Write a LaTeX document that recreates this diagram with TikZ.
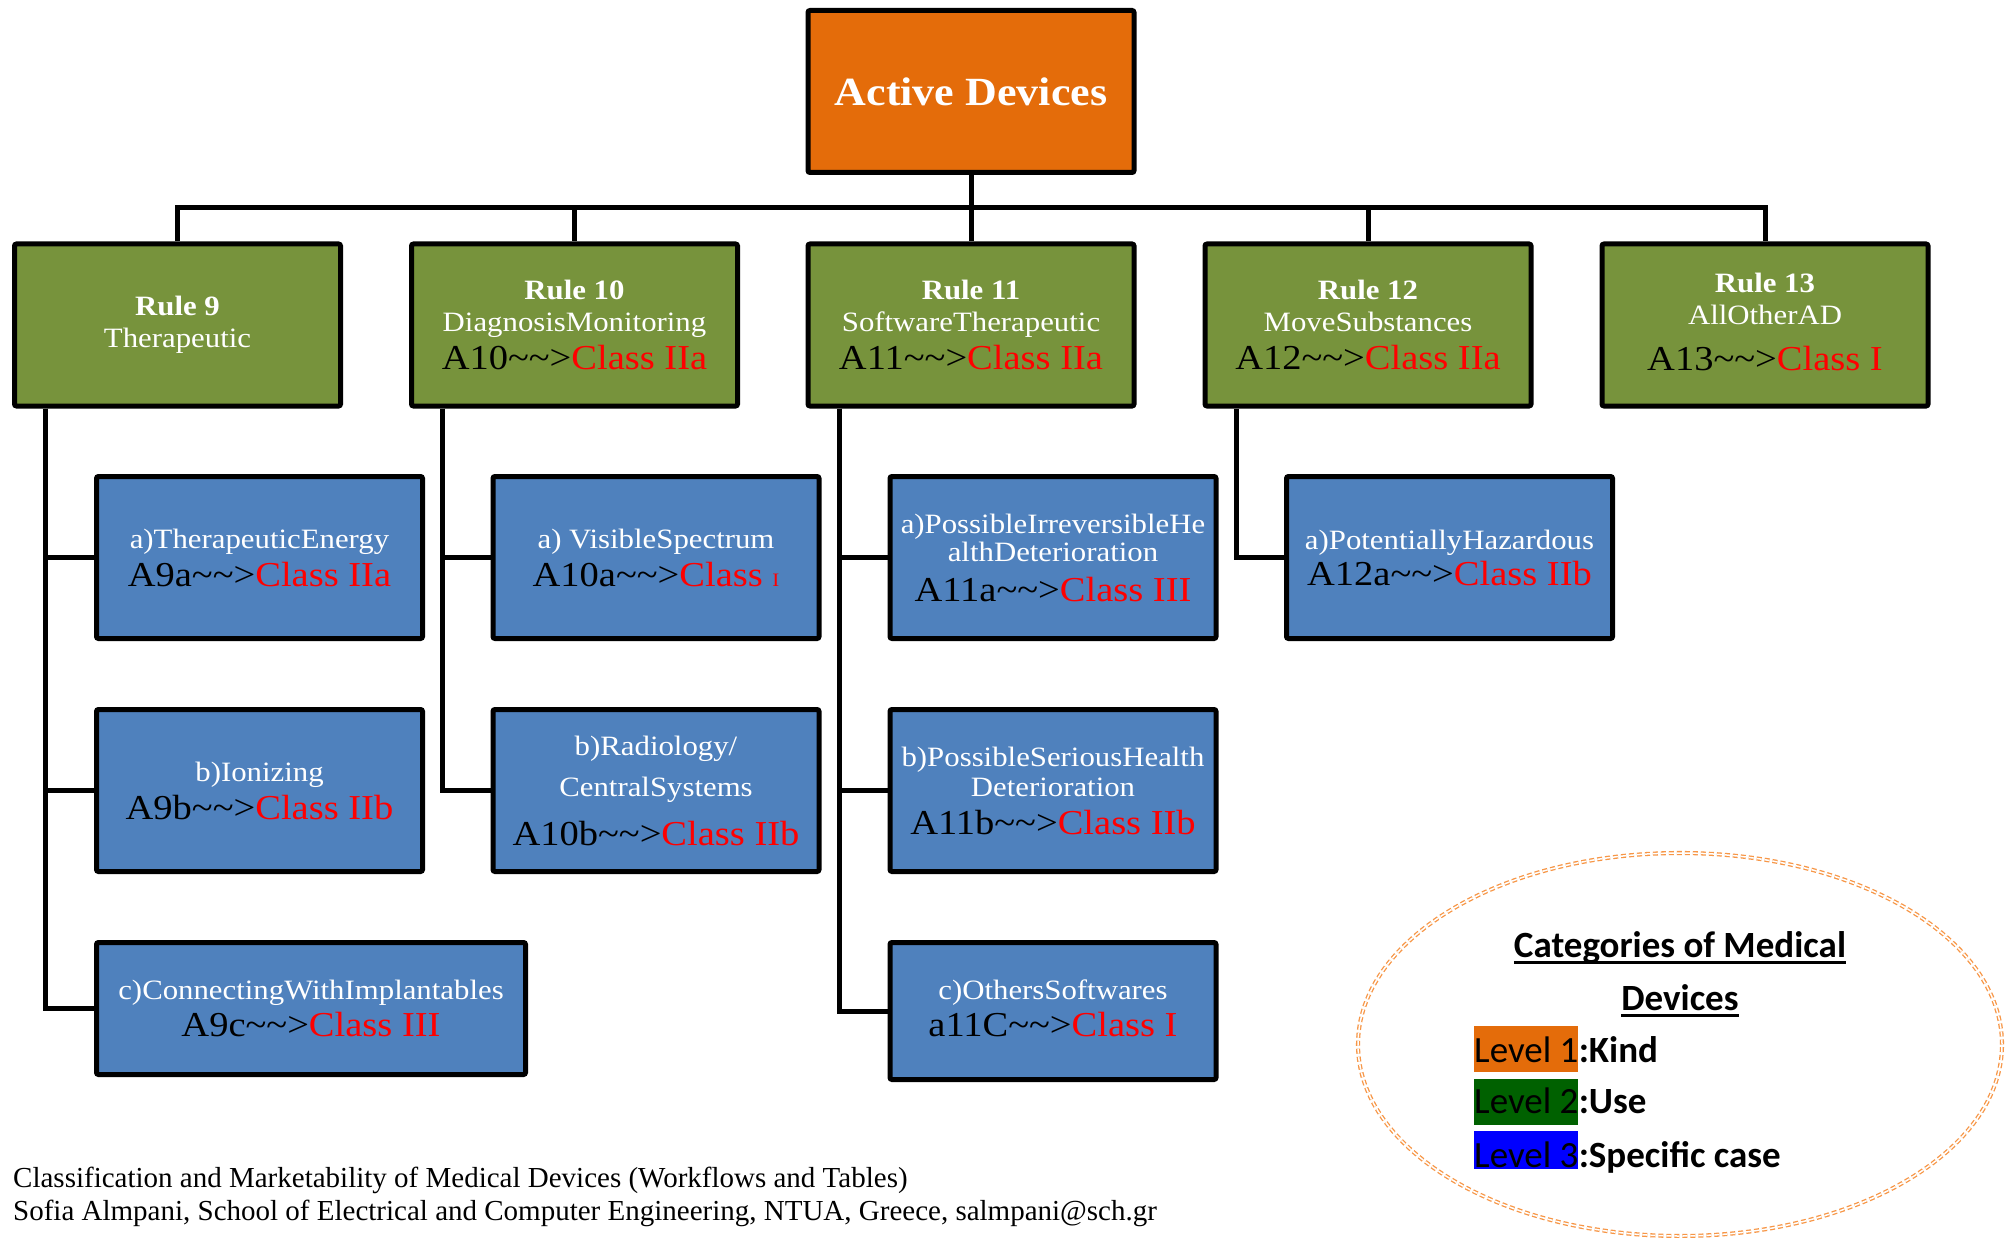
\documentclass[tikz,border=0pt]{standalone}
\usepackage{fontspec}
\setmainfont{Liberation Serif}
\newfontfamily\boxfont[FakeStretch=1.1]{Liberation Serif}
\newfontfamily\keyfont{Carlito}
\usetikzlibrary{shapes.geometric}

\definecolor{kindorange}{HTML}{E46C0A}
\definecolor{useolive}{HTML}{77933C}
\definecolor{caseblue}{HTML}{4F81BD}
\definecolor{ringorange}{HTML}{F79646}
\definecolor{lvlgreen}{HTML}{006100}
\definecolor{lvlblue}{HTML}{0000FF}
\definecolor{classred}{HTML}{FF0000}

% code of a rule or case, followed by its class in red
\newcommand\assign[2]{{\fontsize{35}{35}\selectfont\color{black}#1\textasciitilde\textasciitilde>\color{classred}Class #2}}
\newcommand\smallI{{\fontsize{19}{19}\selectfont I}}
% extra room below a last line
\newcommand\lowroom[1]{\rule[-#1]{0pt}{#1}}
% underline at a fixed distance below the baseline
\newcommand\ulined[1]{\setbox0=\hbox{#1}\rlap{\vrule height -4pt depth 7pt width \wd0}\box0}

\tikzset{
  box/.style={draw=black, line width=5pt, rounded corners=2pt,
    minimum width=326pt, minimum height=162pt, inner sep=0pt,
    align=center, text=white,
    font={\boxfont\fontsize{28}{32}\selectfont\lineskiplimit=-100pt}},
  kindnode/.style={box, fill=kindorange,
    font={\boxfont\bfseries\fontsize{40}{44}\selectfont}},
  usenode/.style={box, fill=useolive},
  casenode/.style={box, fill=caseblue},
  conn/.style={draw=black, line width=5pt},
  ring/.style={ellipse, draw=ringorange, line width=1.3pt, double=white,
    double distance=1.5pt, dash pattern=on 5pt off 3pt,
    minimum width=644pt, minimum height=383pt, inner sep=0pt},
  keytitle/.style={anchor=base, inner sep=0pt,
    font={\keyfont\bfseries\fontsize{37}{44}\selectfont}},
  levelmark/.style={anchor=base west, inner sep=0pt,
    font={\keyfont\fontsize{37}{44}\selectfont}},
  levelword/.style={anchor=base west, inner sep=0pt,
    font={\keyfont\bfseries\fontsize{37}{44}\selectfont}},
  credit/.style={anchor=base west, inner sep=0pt,
    font={\fontsize{29}{33}\selectfont}},
}

\begin{document}
\begin{tikzpicture}[x=1pt, y=-1pt]
  \path[fill=white] (0,0) rectangle (2015,1238);
  \useasboundingbox (0,0) rectangle (2015,1238);

  % level 1
  \node[kindnode] (ad) at (971,91.5) {Active Devices};

  % level 2: rules
  \node[usenode] (r9)  at (177.5,325) {\textbf{Rule 9}\\Therapeutic};
  \node[usenode] (r10) at (574.5,325) {\textbf{Rule 10}\\DiagnosisMonitoring\\[6pt]\assign{A10}{IIa}};
  \node[usenode] (r11) at (971,325)   {\textbf{Rule 11}\\SoftwareTherapeutic\\[6pt]\assign{A11}{IIa}};
  \node[usenode] (r12) at (1368,325)  {\textbf{Rule 12}\\MoveSubstances\\[6pt]\assign{A12}{IIa}};
  \node[usenode] (r13) at (1765,325)  {\textbf{Rule 13}\\AllOtherAD\\[14pt]\assign{A13}{I}\lowroom{6pt}};

  % level 3: specific cases
  \node[casenode] (a9a)  at (259.5,557.5) {a)TherapeuticEnergy\\[6pt]\assign{A9a}{IIa}};
  \node[casenode] (a10a) at (656,557.5)   {a) VisibleSpectrum\\[6pt]\assign{A10a}{\smallI}};
  \node[casenode] (a11a) at (1053,557.5)  {a)PossibleIrreversibleHe\\[-4pt]althDeterioration\\[8pt]\assign{A11a}{III}};
  \node[casenode] (a12a) at (1449.5,557.5){a)PotentiallyHazardous\\[4pt]\assign{A12a}{IIb}};

  \node[casenode] (a9b)  at (259.5,790.5) {b)Ionizing\\[6pt]\assign{A9b}{IIb}};
  \node[casenode] (a10b) at (656,790.5)   {b)Radiology/\\[9pt]CentralSystems\\[17pt]\assign{A10b}{IIb}};
  \node[casenode] (a11b) at (1053,790.5)  {b)PossibleSeriousHealth\\[-2pt]Deterioration\\[6pt]\assign{A11b}{IIb}};

  \node[casenode, minimum width=429pt, minimum height=132pt] (a9c) at (311,1008.5)
    {c)ConnectingWithImplantables\\[5pt]\assign{A9c}{III}};
  \node[casenode, minimum height=137pt] (a11c) at (1053,1011)
    {c)OthersSoftwares\\[5pt]\assign{a11C}{I}\lowroom{5pt}};

  % connectors from the kind to the rules
  \coordinate (bus) at (971,208);
  \draw[conn] (ad.south) -- (r11.north);
  \foreach \r in {r9,r10,r12,r13}
    \draw[conn] (bus) -| (\r.north);

  % connectors from the rules to their cases
  \foreach \c in {a9a,a9b,a9c}
    \draw[conn] ([xshift=33.5pt]r9.south west) |- (\c.west);
  \foreach \c in {a10a,a10b}
    \draw[conn] ([xshift=33.5pt]r10.south west) |- (\c.west);
  \foreach \c in {a11a,a11b,a11c}
    \draw[conn] ([xshift=33.5pt]r11.south west) |- (\c.west);
  \draw[conn] ([xshift=33.5pt]r12.south west) |- (a12a.west);

  % legend
  \node[ring] (key) at (1680,1044.5) {};
  \node[keytitle] (keyhead1) at (1680,957)  {\ulined{Categories of Medical}};
  \node[keytitle] (keyhead2) at (1680,1010) {\ulined{Devices}};

  \node[levelmark, fill=kindorange, text height=36pt, text depth=10pt] (lv1) at (1474,1062) {Level 1};
  \node[levelword] (lv1w) at (lv1.base east) {:Kind};
  \node[levelmark, fill=lvlgreen, text height=34pt, text depth=12pt] (lv2) at (1474,1113) {Level 2};
  \node[levelword] (lv2w) at (lv2.base east) {:Use};
  \node[levelmark, fill=lvlblue, text height=36pt, text depth=2pt] (lv3) at (1474,1167) {Level 3};
  \node[levelword] (lv3w) at (lv3.base east) {:Specific case};

  % source note
  \node[credit] (src1) at (13,1187) {Classification and Marketability of Medical Devices (Workflows and Tables)};
  \node[credit] (src2) at (13,1220) {Sofia Almpani, School of Electrical and Computer Engineering, NTUA, Greece, salmpani@sch.gr};
\end{tikzpicture}
\end{document}
